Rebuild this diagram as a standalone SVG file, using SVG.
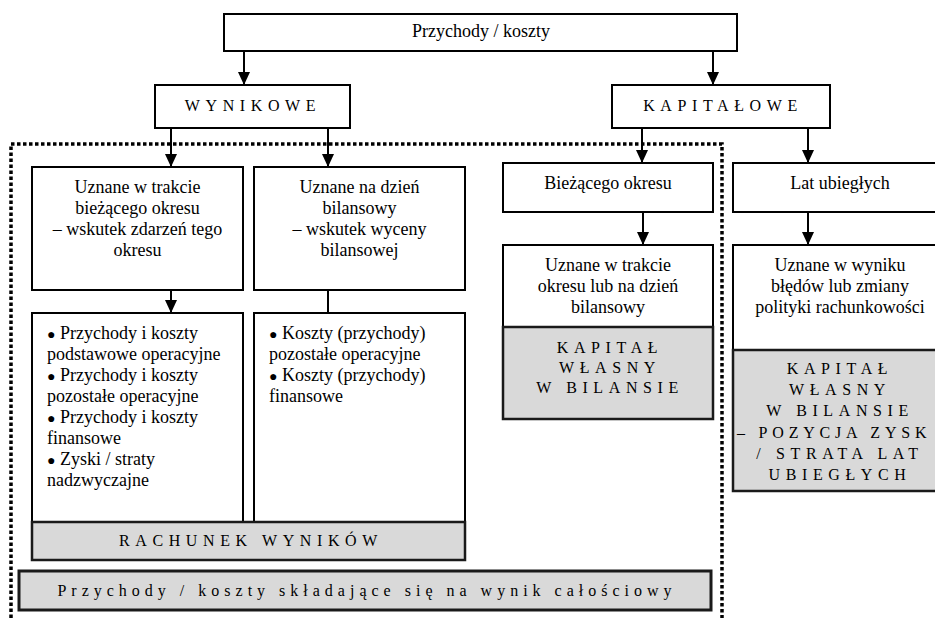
<svg xmlns="http://www.w3.org/2000/svg" width="935" height="618" viewBox="0 0 935 618">
<style>
.box{fill:#fff;stroke:#000;stroke-width:2}
.gray{fill:#d9d9d9;stroke:#1a1a1a;stroke-width:2.5}
text{font-family:'Liberation Serif',Tinos,'DejaVu Serif',serif}
.t{font-size:18px;fill:#000}
.c{text-anchor:middle}
.s{font-size:16px;fill:#000;letter-spacing:5.6px;text-anchor:middle}
.b{font-size:14px}
.conn{stroke:#000;stroke-width:2;fill:none}
.dot{stroke:#000;stroke-width:3.5;fill:none;stroke-dasharray:3.5 2.5}
</style>
<defs>
<marker id="ahd" markerUnits="userSpaceOnUse" markerWidth="13" markerHeight="12" refX="13" refY="6" orient="auto" viewBox="0 0 13 12">
<path d="M0,0 L13,6 L0,12 Z" fill="#000"/>
</marker>
</defs>

<path class="dot" d="M11,618 V144 H722 V618"/>

<g id="top"><rect class="box" x="224" y="14" width="513" height="37"/><text class="t c" x="481" y="37">Przychody / koszty</text></g>
<g id="wynikowe"><rect class="box" x="155" y="85" width="195" height="43"/><text class="s" x="253" y="111">WYNIKOWE</text></g>
<g id="kapitalowe"><rect class="box" x="612" y="85" width="218" height="43"/><text class="s" x="723" y="111">KAPITAŁOWE</text></g>

<g id="uznane1"><rect class="box" x="32" y="167" width="211" height="123"/>
<text class="t c" x="137.5" y="193">Uznane w trakcie</text>
<text class="t c" x="137.5" y="214">bieżącego okresu</text>
<text class="t c" x="137.5" y="235">– wskutek zdarzeń tego</text>
<text class="t c" x="137.5" y="256">okresu</text></g>

<g id="uznane2"><rect class="box" x="254" y="167" width="211" height="123"/>
<text class="t c" x="359.5" y="193">Uznane na dzień</text>
<text class="t c" x="359.5" y="214">bilansowy</text>
<text class="t c" x="359.5" y="235">– wskutek wyceny</text>
<text class="t c" x="359.5" y="256">bilansowej</text></g>

<g id="lista1"><rect class="box" x="32" y="313" width="211" height="209"/>
<text class="t" x="47" y="339"><tspan class="b">●</tspan> Przychody i koszty</text>
<text class="t" x="47" y="360">podstawowe operacyjne</text>
<text class="t" x="47" y="381"><tspan class="b">●</tspan> Przychody i koszty</text>
<text class="t" x="47" y="402">pozostałe operacyjne</text>
<text class="t" x="47" y="423"><tspan class="b">●</tspan> Przychody i koszty</text>
<text class="t" x="47" y="444">finansowe</text>
<text class="t" x="47" y="465"><tspan class="b">●</tspan> Zyski / straty</text>
<text class="t" x="47" y="486">nadzwyczajne</text></g>

<g id="lista2"><rect class="box" x="254" y="313" width="211" height="209"/>
<text class="t" x="269" y="339"><tspan class="b">●</tspan> Koszty (przychody)</text>
<text class="t" x="269" y="360">pozostałe operacyjne</text>
<text class="t" x="269" y="381"><tspan class="b">●</tspan> Koszty (przychody)</text>
<text class="t" x="269" y="402">finansowe</text></g>

<g id="rachunek"><rect class="gray" x="32" y="522" width="433" height="38"/><text class="s" x="251" y="546">RACHUNEK WYNIKÓW</text></g>

<g id="calosciowy"><rect class="gray" x="19" y="571" width="692" height="39" style="stroke-width:3"/><text class="s" x="367" y="596" style="letter-spacing:5px">Przychody / koszty składające się na wynik całościowy</text></g>

<g id="biezacy"><rect class="box" x="503" y="163" width="210" height="49"/><text class="t c" x="608" y="189">Bieżącego okresu</text></g>
<g id="uznane3"><rect class="box" x="503" y="245" width="210" height="82"/>
<text class="t c" x="608" y="271">Uznane w trakcie</text>
<text class="t c" x="608" y="292">okresu lub na dzień</text>
<text class="t c" x="608" y="313">bilansowy</text></g>
<g id="kapital1"><rect class="gray" x="503" y="327" width="210" height="92"/>
<text class="s" x="610" y="353">KAPITAŁ</text>
<text class="s" x="610" y="373">WŁASNY</text>
<text class="s" x="610" y="393">W BILANSIE</text></g>

<g id="lata"><rect class="box" x="733" y="163" width="220" height="49"/><text class="t c" x="840" y="189">Lat ubiegłych</text></g>
<g id="uznane4"><rect class="box" x="733" y="245" width="220" height="105"/>
<text class="t c" x="840" y="271">Uznane w wyniku</text>
<text class="t c" x="840" y="292">błędów lub zmiany</text>
<text class="t c" x="840" y="313">polityki rachunkowości</text></g>
<g id="kapital2"><rect class="gray" x="733" y="350" width="220" height="141"/>
<text class="s" x="840" y="374">KAPITAŁ</text>
<text class="s" x="840" y="395">WŁASNY</text>
<text class="s" x="840" y="416">W BILANSIE</text>
<text class="s" x="737" y="438" style="text-anchor:start;letter-spacing:4.8px">– POZYCJA ZYSK</text>
<text class="s" x="840" y="459">/ STRATA LAT</text>
<text class="s" x="840" y="480">UBIEGŁYCH</text></g>

<g id="connectors">
<line class="conn" x1="244" y1="51" x2="244" y2="85" marker-end="url(#ahd)"/>
<line class="conn" x1="713" y1="51" x2="713" y2="85" marker-end="url(#ahd)"/>
<line class="conn" x1="171" y1="128" x2="171" y2="167" marker-end="url(#ahd)"/>
<line class="conn" x1="328" y1="128" x2="328" y2="167" marker-end="url(#ahd)"/>
<line class="conn" x1="642" y1="128" x2="642" y2="163" marker-end="url(#ahd)"/>
<line class="conn" x1="808" y1="128" x2="808" y2="163" marker-end="url(#ahd)"/>
<line class="conn" x1="171" y1="290" x2="171" y2="313" marker-end="url(#ahd)"/>
<line class="conn" x1="328" y1="290" x2="328" y2="313"/>
<line class="conn" x1="643" y1="212" x2="643" y2="245" marker-end="url(#ahd)"/>
<line class="conn" x1="808" y1="212" x2="808" y2="245" marker-end="url(#ahd)"/>
</g>
</svg>
